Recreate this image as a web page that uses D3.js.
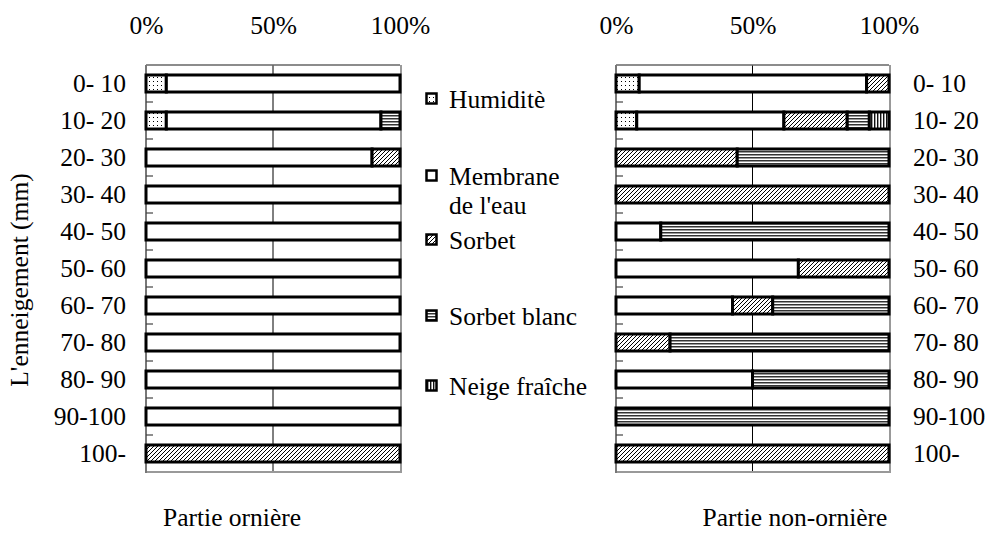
<!DOCTYPE html>
<html>
<head>
<meta charset="utf-8">
<script src="https://cdn.jsdelivr.net/npm/d3@7/dist/d3.min.js"></script>
<style>
  html, body { margin: 0; padding: 0; background: #fff; }
  svg { display: block; font-family: "Liberation Serif", "Times New Roman", serif; }
</style>
</head>
<body>
<svg id="chart" width="986" height="534"></svg>
<script>
// Snow layer depth classes (mm)
const categories = ["0- 10", "10- 20", "20- 30", "30- 40", "40- 50", "50- 60", "60- 70", "70- 80", "80- 90", "90-100", "100-"];
const seriesKeys = ["Humiditè", "Membrane de l'eau", "Sorbet", "Sorbet blanc", "Neige fraîche"];
const tickValues = [0, 0.5, 1];

// Partie ornière (%)
const humiditeOrniere     = [8, 8, 0, 0, 0, 0, 0, 0, 0, 0, 0];
const membraneOrniere     = [92, 84.5, 89, 100, 100, 100, 100, 100, 100, 100, 0];
const sorbetOrniere       = [0, 0, 11, 0, 0, 0, 0, 0, 0, 0, 100];
const sorbetBlancOrniere  = [0, 7.5, 0, 0, 0, 0, 0, 0, 0, 0, 0];
const neigeOrniere        = [0, 0, 0, 0, 0, 0, 0, 0, 0, 0, 0];

// Partie non-ornière (%)
const humiditeNon     = [8.5, 7.6, 0, 0, 0, 0, 0, 0, 0, 0, 0];
const membraneNon     = [83.3, 53.9, 0, 0, 16.4, 66.8, 42.7, 0, 50, 0, 0];
const sorbetNon       = [8.2, 23.2, 44.4, 100, 0, 33.2, 14.7, 19.8, 0, 0, 100];
const sorbetBlancNon  = [0, 8.1, 55.6, 0, 83.6, 0, 42.6, 80.2, 50, 100, 0];
const neigeNon        = [0, 7.2, 0, 0, 0, 0, 0, 0, 0, 0, 0];

const FS = 25.5;

function buildRows(cols) {
  return categories.map((c, i) => {
    const row = { cat: c };
    seriesKeys.forEach((k, j) => { row[k] = cols[j][i]; });
    return row;
  });
}
const rowsOrniere = buildRows([humiditeOrniere, membraneOrniere, sorbetOrniere, sorbetBlancOrniere, neigeOrniere]);
const rowsNon = buildRows([humiditeNon, membraneNon, sorbetNon, sorbetBlancNon, neigeNon]);

const svg = d3.select("#chart");
const defs = svg.append("defs");

// Fill patterns
const pDots = defs.append("pattern").attr("id", "p-dots").attr("patternUnits", "userSpaceOnUse")
  .attr("width", 4).attr("height", 4);
pDots.append("rect").attr("width", 4).attr("height", 4).attr("fill", "#fff");
pDots.append("rect").attr("x", 1).attr("y", 1).attr("width", 1).attr("height", 1).attr("fill", "#000");

const pDiag = defs.append("pattern").attr("id", "p-diag").attr("patternUnits", "userSpaceOnUse")
  .attr("width", 4).attr("height", 4);
pDiag.append("rect").attr("width", 4).attr("height", 4).attr("fill", "#fff");
pDiag.append("path").attr("d", "M-1,1 L1,-1 M0,4 L4,0 M3,5 L5,3")
  .attr("stroke", "#000").attr("stroke-width", 1);

const pHoriz = defs.append("pattern").attr("id", "p-horiz").attr("patternUnits", "userSpaceOnUse")
  .attr("width", 4).attr("height", 3);
pHoriz.append("rect").attr("width", 4).attr("height", 3).attr("fill", "#fff");
pHoriz.append("rect").attr("y", 1).attr("width", 4).attr("height", 1.5).attr("fill", "#333");

const pVert = defs.append("pattern").attr("id", "p-vert").attr("patternUnits", "userSpaceOnUse")
  .attr("width", 3).attr("height", 4);
pVert.append("rect").attr("width", 3).attr("height", 4).attr("fill", "#fff");
pVert.append("rect").attr("x", 1).attr("width", 1.4).attr("height", 4).attr("fill", "#111");

const fills = {
  "Humiditè": "url(#p-dots)",
  "Membrane de l'eau": "#fff",
  "Sorbet": "url(#p-diag)",
  "Sorbet blanc": "url(#p-horiz)",
  "Neige fraîche": "url(#p-vert)"
};

const plotTop = 65, plotBottom = 472;
const y = d3.scaleBand().domain(categories).range([plotTop, plotBottom]).paddingInner(0.54).paddingOuter(0.27);
const stack = d3.stack().keys(seriesKeys);

function drawPanel(rows, x0, x1, labelSide, title, titleX) {
  const x = d3.scaleLinear().domain([0, 100]).range([x0, x1]);
  const xp = d3.scaleLinear().domain([0, 1]).range([x0, x1]);
  const g = svg.append("g");

  // 50% grid line
  g.append("line").attr("x1", x(50)).attr("x2", x(50)).attr("y1", plotTop).attr("y2", plotBottom)
    .attr("stroke", "#000").attr("stroke-width", 1);

  // frame
  g.append("line").attr("x1", x0).attr("x2", x1).attr("y1", plotTop).attr("y2", plotTop)
    .attr("stroke", "#666").attr("stroke-width", 1.5);
  g.append("line").attr("x1", x1 + 1).attr("x2", x1 + 1).attr("y1", plotTop).attr("y2", plotBottom)
    .attr("stroke", "#999").attr("stroke-width", 2);
  g.append("line").attr("x1", x0).attr("x2", x1 + 2).attr("y1", plotBottom).attr("y2", plotBottom)
    .attr("stroke", "#999").attr("stroke-width", 2);

  // left axis with inward ticks at band boundaries
  g.append("line").attr("x1", x0).attr("x2", x0).attr("y1", plotTop).attr("y2", plotBottom + 1)
    .attr("stroke", "#777").attr("stroke-width", 2);
  const bounds = d3.range(1, categories.length).map(i => plotTop + i * y.step());
  g.selectAll("line.tk").data(bounds).join("line").attr("class", "tk")
    .attr("x1", x0).attr("x2", x0 + 7).attr("y1", d => d).attr("y2", d => d)
    .attr("stroke", "#444").attr("stroke-width", 1.2);

  // stacked bars
  const series = stack(rows);
  series.forEach(s => {
    g.append("g").selectAll("rect").data(s.filter(d => d[1] - d[0] > 0)).join("rect")
      .attr("x", d => x(d[0]))
      .attr("width", d => x(d[1]) - x(d[0]))
      .attr("y", d => y(d.data.cat))
      .attr("height", y.bandwidth())
      .attr("fill", fills[s.key])
      .attr("stroke", "#000")
      .attr("stroke-width", 3);
  });

  // top percent axis
  const ax = g.append("g").attr("transform", `translate(0,${plotTop - 28})`)
    .call(d3.axisTop(xp).tickValues(tickValues).tickFormat(d3.format(".0%")).tickSize(0));
  ax.select(".domain").remove();
  ax.attr("font-family", null).attr("font-size", null);
  ax.selectAll("text").attr("font-size", FS).attr("fill", "#000").attr("dy", 0);

  // category labels
  const lab = g.selectAll("text.cat").data(categories).join("text").attr("class", "cat")
    .attr("y", d => y(d) + y.bandwidth() / 2)
    .attr("dy", "0.35em")
    .attr("font-size", FS)
    .text(d => d);
  if (labelSide === "left") lab.attr("x", 126).attr("text-anchor", "end");
  else lab.attr("x", 913).attr("text-anchor", "start");

  // panel title
  g.append("text").attr("x", titleX).attr("y", 526).attr("text-anchor", "middle")
    .attr("font-size", FS).text(title);
}

drawPanel(rowsOrniere, 146, 400, "left", "Partie ornière", 232);
drawPanel(rowsNon, 616, 889, "right", "Partie non-ornière", 795);

// axis title
svg.append("text").attr("transform", "translate(28,280) rotate(-90)")
  .attr("text-anchor", "middle").attr("font-size", FS).text("L'enneigement (mm)");

// legend
const legendItems = [
  { key: "Humiditè", y: 99, lines: ["Humiditè"] },
  { key: "Membrane de l'eau", y: 176, lines: ["Membrane", "de l'eau"] },
  { key: "Sorbet", y: 240, lines: ["Sorbet"] },
  { key: "Sorbet blanc", y: 316, lines: ["Sorbet blanc"] },
  { key: "Neige fraîche", y: 386, lines: ["Neige fraîche"] }
];
const lg = svg.append("g");
legendItems.forEach(it => {
  lg.append("rect").attr("x", 426.5).attr("y", it.y - 5.5).attr("width", 10).attr("height", 10)
    .attr("fill", fills[it.key]).attr("stroke", "#000").attr("stroke-width", 2.5);
  const t = lg.append("text").attr("x", 449).attr("y", it.y).attr("font-size", FS);
  it.lines.forEach((ln, i) => {
    t.append("tspan").attr("x", 449).attr("dy", i === 0 ? "0.35em" : "1.15em").text(ln);
  });
});
</script>
</body>
</html>
